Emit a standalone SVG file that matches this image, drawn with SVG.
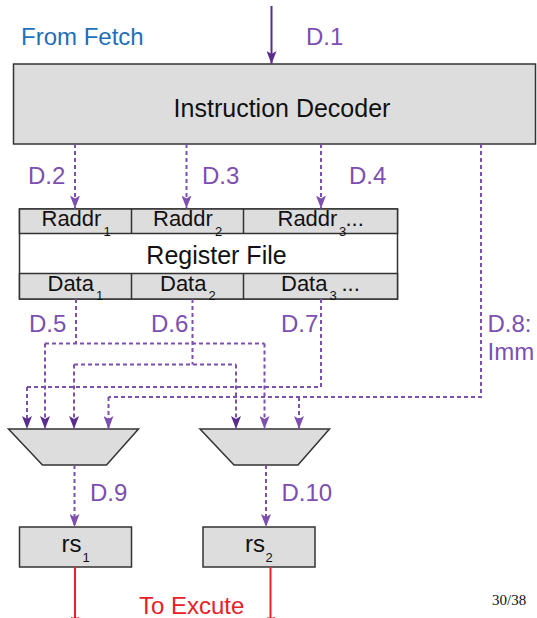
<svg xmlns="http://www.w3.org/2000/svg" width="537" height="618" viewBox="0 0 537 618">
<style>
text{font-family:"Liberation Sans",Arial,sans-serif;}
.box{fill:#dddddd;stroke:#333333;stroke-width:1.5;}
.lbl{fill:#111111;font-size:25px;}
.cell{fill:#111111;font-size:22px;}
.sub{fill:#111111;font-size:13px;}
.d{fill:#7c4fb0;font-size:24px;}
.dash{fill:none;stroke:#7c50ae;stroke-width:2;stroke-dasharray:4 3;}
.dk{marker-end:url(#ahd);}
.lt{marker-end:url(#ahl);}
.red{fill:none;stroke:#e8202a;stroke-width:2;marker-end:url(#ahr);}
</style>
<defs>
<marker id="ahd" viewBox="0 0 10 13" markerWidth="10" markerHeight="13" refX="5" refY="13" orient="0" markerUnits="userSpaceOnUse"><path d="M0,0 L5,3 L10,0 L5,13 Z" fill="#5b2c8f"/></marker>
<marker id="ahl" viewBox="0 0 10 13" markerWidth="10" markerHeight="13" refX="5" refY="13" orient="0" markerUnits="userSpaceOnUse"><path d="M0,0 L5,3 L10,0 L5,13 Z" fill="#7c4fb0"/></marker>
<marker id="ahr" viewBox="0 0 8 8" markerWidth="8" markerHeight="8" refX="4" refY="8" orient="0" markerUnits="userSpaceOnUse"><path d="M0,0 L8,0 L4,8 Z" fill="none" stroke="#e8202a" stroke-width="1"/></marker>
</defs>

<g id="labels">
<text x="21" y="45" style="fill:#1f6fba;font-size:24px;">From Fetch</text>
<text class="d" x="306" y="44.5">D.1</text>
<text class="d" x="28" y="184">D.2</text>
<text class="d" x="202" y="184">D.3</text>
<text class="d" x="349" y="184">D.4</text>
<text class="d" x="29" y="332">D.5</text>
<text class="d" x="151" y="332">D.6</text>
<text class="d" x="281" y="332">D.7</text>
<text class="d" x="487.5" y="332">D.8:</text>
<text class="d" x="487.5" y="360">Imm</text>
<text class="d" x="90" y="501">D.9</text>
<text class="d" x="281.5" y="501">D.10</text>
<text x="139" y="614" style="fill:#e8202a;font-size:24px;">To Excute</text>
<text x="492" y="605" style="font-family:'Liberation Serif','Times New Roman',serif;font-size:15px;fill:#111;">30/38</text>
</g>

<g id="decoder">
<rect class="box" x="13.5" y="64" width="522" height="80"/>
<text class="lbl" x="282" y="117" text-anchor="middle">Instruction Decoder</text>
</g>

<g id="regfile">
<rect x="19.5" y="209" width="378" height="90" fill="#ffffff" stroke="#333333" stroke-width="1.5"/>
<rect class="box" x="19.5" y="209" width="378" height="24.5"/>
<rect class="box" x="19.5" y="273.5" width="378" height="25.5"/>
<line x1="131.5" y1="209" x2="131.5" y2="233.5" stroke="#333" stroke-width="1.5"/>
<line x1="243.5" y1="209" x2="243.5" y2="233.5" stroke="#333" stroke-width="1.5"/>
<line x1="131.5" y1="273.5" x2="131.5" y2="299" stroke="#333" stroke-width="1.5"/>
<line x1="243.5" y1="273.5" x2="243.5" y2="299" stroke="#333" stroke-width="1.5"/>
<text class="cell" x="41.5" y="226">Raddr</text><text class="sub" x="103.5" y="235.5">1</text>
<text class="cell" x="153" y="226">Raddr</text><text class="sub" x="215" y="235.5">2</text>
<text class="cell" x="277.5" y="226">Raddr</text><text class="sub" x="339" y="235.5">3</text><text class="cell" x="345.5" y="226">...</text>
<text class="lbl" x="216.5" y="264" text-anchor="middle">Register File</text>
<text class="cell" x="47.5" y="291">Data</text><text class="sub" x="96" y="300">1</text>
<text class="cell" x="160" y="291">Data</text><text class="sub" x="208.5" y="300">2</text>
<text class="cell" x="281" y="291">Data</text><text class="sub" x="329.5" y="300">3</text><text class="cell" x="341.5" y="291">...</text>
</g>

<g id="mux1">
<polygon class="box" points="8.5,429 138.5,429 106.5,465 42.5,465"/>
</g>
<g id="mux2">
<polygon class="box" points="200,429 329.5,429 298,465 234,465"/>
</g>

<g id="rs1">
<rect class="box" x="19.5" y="527" width="112" height="40"/>
<text x="61.5" y="552" style="fill:#111;font-size:24px;">rs</text><text class="sub" x="82.5" y="562">1</text>
</g>
<g id="rs2">
<rect class="box" x="203" y="527" width="112" height="40"/>
<text x="245" y="552" style="fill:#111;font-size:24px;">rs</text><text class="sub" x="265.5" y="562">2</text>
</g>

<g id="connectors">
<path d="M271.5,6 V64" fill="none" stroke="#5b2c8f" stroke-width="2" marker-end="url(#ahd)"/>
<path class="dash lt" d="M75,144 V208.5"/>
<path class="dash lt" d="M186.5,144 V208.5"/>
<path class="dash lt" d="M321,144 V208.5"/>
<path class="dash" d="M76,299 V343.5"/>
<path class="dash" d="M45,343.5 H264.5"/>
<path class="dash dk" d="M45,343.5 V429"/>
<path class="dash lt" d="M264.5,343.5 V429"/>
<path class="dash" d="M192.5,299 V364.5"/>
<path class="dash" d="M74,364.5 H236"/>
<path class="dash dk" d="M74,364.5 V429"/>
<path class="dash dk" d="M236,364.5 V429"/>
<path class="dash" d="M321,299 V387 H27"/>
<path class="dash dk" d="M27,387 V429"/>
<path class="dash" d="M481,144 V397 H108.5"/>
<path class="dash lt" d="M108.5,397 V429"/>
<path class="dash lt" d="M299,397 V429"/>
<path class="dash lt" d="M74.5,465 V527"/>
<path class="dash lt" d="M266,465 V527"/>
<path class="red" d="M75,567 V625"/>
<path class="red" d="M270.5,567 V625"/>
</g>
</svg>
